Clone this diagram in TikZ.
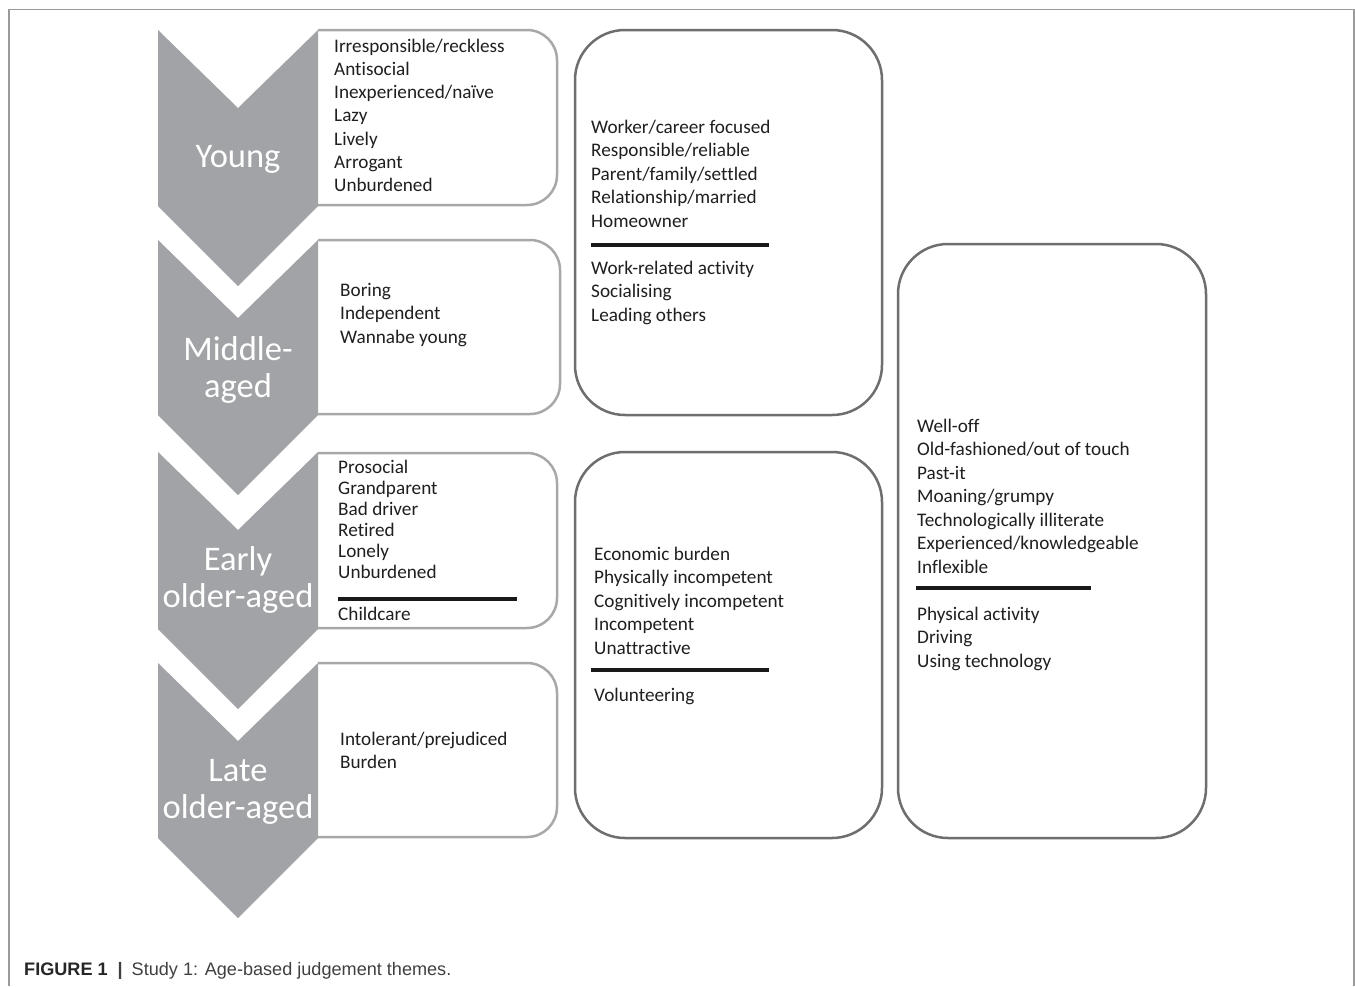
\documentclass[tikz,border=0pt]{standalone}
\usepackage{fontspec}
\setmainfont{Carlito}[Ligatures=NoCommon]
\newfontfamily\capfont{Liberation Sans}
\definecolor{chev}{HTML}{A2A3A6}
\definecolor{lbox}{HTML}{A8A8A8}
\definecolor{bbox}{HTML}{6E6E6E}
\definecolor{frame}{HTML}{9A9A9A}
\newcommand\chevshape[2]{%
  \fill[chevron] (158,#1) -- (238,{#1+78}) -- (318,#1) -- (318,#2) -- (238,{#2+80}) -- (158,#2) -- cycle;}
\begin{document}
\begin{tikzpicture}[x=1pt,y=-1pt,
  chevron/.style={fill=chev,draw=none},
  lboxstyle/.style={draw=lbox,line width=2.5pt,rounded corners=30pt},
  bboxstyle/.style={draw=bbox,line width=2.5pt,rounded corners=50pt},
  item/.style={anchor=base west,inner sep=0pt,font=\fontsize{19.2}{22}\selectfont,text=black!88},
  chevlab/.style={anchor=base,inner sep=0pt,text=white,font=\fontsize{34.5}{38}\selectfont},
  rulestyle/.style={line width=3.5pt,black!90},
  framestyle/.style={draw=frame,line width=1.2pt}]
\useasboundingbox (0,0) rectangle (1355,986);
\fill[white] (0,0) rectangle (1355,986);
% frame
\coordinate (fbl) at (9,986);
\coordinate (ftl) at (9,9.5);
\coordinate (ftr) at (1354,9.5);
\coordinate (fbr) at (1354,986);
\draw[framestyle] (fbl) -- (ftl) -- (ftr) -- (fbr);

% left boxes (right side rounded)
\draw[lboxstyle] (318,30) -- (557,30) -- (557,205) -- (316,205);
\draw[lboxstyle] (318,240) -- (560,240) -- (560,414) -- (316,414);
\draw[lboxstyle] (318,453) -- (557,453) -- (557,628) -- (316,628);
\draw[lboxstyle] (318,663) -- (557,663) -- (557,837) -- (316,837);

% big boxes
\draw[bboxstyle] (575,30) rectangle (882,415);
\draw[bboxstyle] (575,452) rectangle (882,838);
\draw[bboxstyle] (898,244) rectangle (1206,838);

% chevrons
\chevshape{30}{206}
\chevshape{240}{415}
\chevshape{452}{629}
\chevshape{663}{838}

% chevron labels
\node[chevlab] (lyoung) at (238,167) {Young};
\node[chevlab] (lmid1) at (238,360) {Middle-};
\node[chevlab] (lmid2) at (238,397) {aged};
\node[chevlab] (learly1) at (238,570) {Early};
\node[chevlab] (learly2) at (238,607) {older-aged};
\node[chevlab] (llate1) at (238,781) {Late};
\node[chevlab] (llate2) at (238,818) {older-aged};

% Young box
\foreach \t [count=\i from 0] in {Irresponsible/reckless,Antisocial,Inexperienced/naïve,Lazy,Lively,Arrogant,Unburdened}
  \node[item] (yng\i) at (334,{52+23.33*\i}) {\t};
% Middle-aged box
\foreach \t [count=\i from 0] in {Boring,Independent,Wannabe young}
  \node[item] (mid\i) at (340,{296+23.5*\i}) {\t};
% Early older-aged box
\foreach \t [count=\i from 0] in {Prosocial,Grandparent,Bad driver,Retired,Lonely,Unburdened}
  \node[item] (ear\i) at (338,{473+21*\i}) {\t};
\coordinate (r1a) at (338,599);
\coordinate (r1b) at (517,599);
\draw[rulestyle] (r1a) -- (r1b);
\node[item] (ear6) at (338,620) {Childcare};
% Late older-aged box
\foreach \t [count=\i from 0] in {Intolerant/prejudiced,Burden}
  \node[item] (lat\i) at (340,{745+23*\i}) {\t};

% middle top box
\foreach \t [count=\i from 0] in {Worker/career focused,Responsible/reliable,Parent/family/settled,Relationship/married,Homeowner}
  \node[item] (mt\i) at (591,{133+23.5*\i}) {\t};
\coordinate (r2a) at (591,245);
\coordinate (r2b) at (769,245);
\draw[rulestyle] (r2a) -- (r2b);
\foreach \t [count=\i from 0] in {Work-related activity,Socialising,Leading others}
  \node[item] (mta\i) at (591,{274+23.5*\i}) {\t};

% middle bottom box
\foreach \t [count=\i from 0] in {Economic burden,Physically incompetent,Cognitively incompetent,Incompetent,Unattractive}
  \node[item] (mb\i) at (594,{560+23.5*\i}) {\t};
\coordinate (r3a) at (591,670);
\coordinate (r3b) at (769,670);
\draw[rulestyle] (r3a) -- (r3b);
\node[item] (mba0) at (594,701) {Volunteering};

% right box
\foreach \t [count=\i from 0] in {Well-off,Old-fashioned/out of touch,Past-it,Moaning/grumpy,Technologically illiterate,Experienced/knowledgeable,Inflexible}
  \node[item] (rb\i) at (917,{432+23.5*\i}) {\t};
\coordinate (r4a) at (916,588);
\coordinate (r4b) at (1091,588);
\draw[rulestyle] (r4a) -- (r4b);
\foreach \t [count=\i from 0] in {Physical activity,Driving,Using technology}
  \node[item] (rba\i) at (917,{620+23.5*\i}) {\t};

% caption
\node[anchor=base west,inner sep=0pt,font=\capfont\fontsize{18.1}{20}\selectfont,text=black!75] (caption) at (24,975)
  {{\bfseries\color{black!85}FIGURE 1}\hspace{10pt}{\bfseries|}\hspace{9pt}Study 1: Age-based judgement themes.};
\end{tikzpicture}
\end{document}
